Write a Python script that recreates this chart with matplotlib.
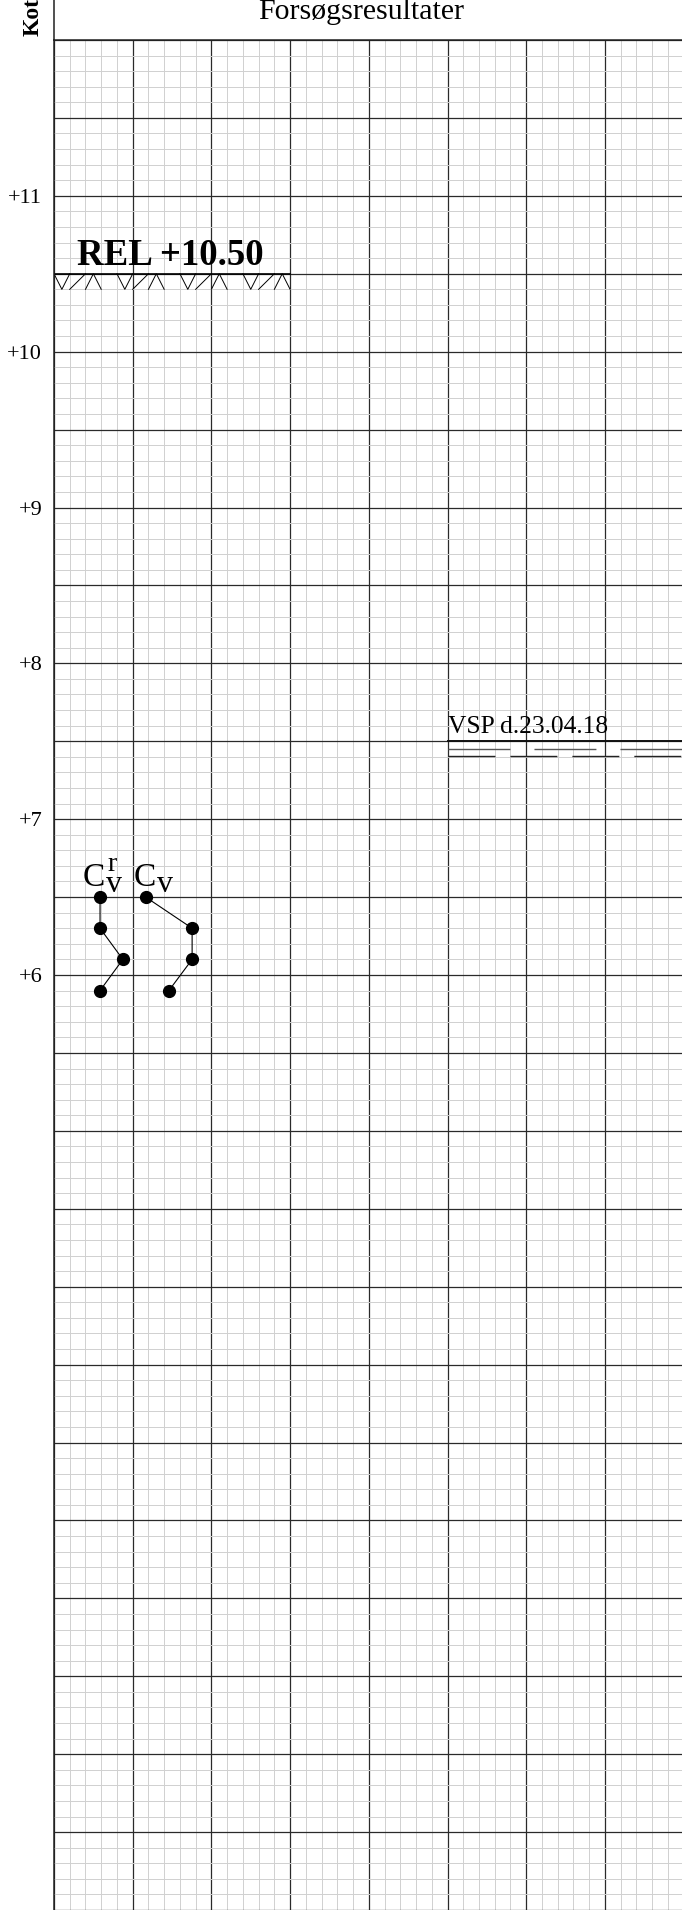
import numpy as np
import matplotlib
matplotlib.use('Agg')
import matplotlib.pyplot as plt
from matplotlib.lines import Line2D

plt.rcParams['font.family'] = ['Liberation Serif', 'DejaVu Serif']

# levels (m) and values read from the sheet
kote_ticks = [6, 7, 8, 9, 10, 11]
rel_level = 10.50
vsp_level = 7.5
vsp_label = 'VSP d.23.04.18'

depth = [6.5, 6.3, 6.1, 5.9]
cv_r = [0.585, 0.585, 0.875, 0.585]   # remoulded, in grid units
cv = [1.165, 1.755, 1.755, 1.46]      # intact, in grid units

W, H = 682, 1910
fig = plt.figure(figsize=(W / 100, H / 100), dpi=100)
left_px, top_px = 54, 40
ax = fig.add_axes([left_px / W, 0, 1 - left_px / W, 1 - top_px / H])

x_max = (W - left_px) / 78.7
ax.set_xlim(0, x_max)
ax.set_ylim(0, 12)

# grid paper
ax.set_xticks(np.arange(0, x_max, 1))
ax.set_xticks(np.arange(0, x_max, 0.2), minor=True)
ax.set_yticks(np.arange(0, 12.01, 0.5))
ax.set_yticks(np.arange(0, 12.01, 0.1), minor=True)
ax.set_yticklabels(['+%d' % v if v in kote_ticks else '' for v in np.arange(0, 12.01, 0.5)])
ax.set_xticklabels([])
ax.grid(which='minor', color='#d0d0d0', lw=0.7, zorder=0)
ax.grid(which='major', color='#2a2a2a', lw=0.9, zorder=1)
ax.set_axisbelow(True)
ax.tick_params(which='both', length=0, labelsize=16, pad=8.5)
for s in ['right', 'bottom']:
    ax.spines[s].set_visible(False)
for s in ['left', 'top']:
    ax.spines[s].set_color('#202020')
    ax.spines[s].set_linewidth(1.1)

# left border continues through header
fig.add_artist(Line2D([left_px / W, left_px / W], [1 - top_px / H, 1], color='#202020', lw=1.1))

fig.text(361 / W, 1 - 19 / H, 'Forsøgsresultater', ha='center', va='baseline', fontsize=21.5)
fig.text(39 / W, 1 - 36 / H, 'Kote', rotation=90, rotation_mode='anchor',
         ha='left', va='baseline', fontsize=17, fontweight='bold')

# REL terrain symbol
ax.text(0.29, rel_level + 0.057, 'REL +%.2f' % rel_level, fontsize=26.5, fontweight='bold',
        ha='left', va='baseline')
ax.plot([0, 3], [rel_level, rel_level], color='k', lw=1.2)
pattern = ['V', '/', 'A', '']
top, bot = rel_level, rel_level - 0.1
for i in range(15):
    x0 = i * 0.2
    x1 = x0 + 0.2
    xm = (x0 + x1) / 2
    p = pattern[i % 4]
    if p == 'V':
        ax.plot([x0, xm, x1], [top, bot, top], color='k', lw=0.7)
    elif p == '/':
        ax.plot([x0, x1], [bot, top], color='k', lw=0.7)
    elif p == 'A':
        ax.plot([x0, xm, x1], [bot, top, bot], color='k', lw=0.7)

# water level symbol
ax.text(5.0, vsp_level + 0.055, vsp_label, fontsize=18.4, ha='left', va='baseline')
ax.plot([5, x_max], [vsp_level, vsp_level], color='#111111', lw=1.4)
ax.plot([5, x_max], [vsp_level - 0.051] * 2, color='#555555', lw=1.0, dashes=(44.6, 17.3))
ax.plot([5, x_max], [vsp_level - 0.096] * 2, color='#222222', lw=1.0, dashes=(33.8, 10.8))

# vane test results
ax.plot(cv_r, depth, color='k', lw=0.8, marker='o', ms=8.5)
ax.plot(cv, depth, color='k', lw=0.8, marker='o', ms=8.5)

ax.text(0.368, 6.569, 'C', fontsize=24, ha='left', va='baseline')
ax.text(0.68, 6.665, 'r', fontsize=20, ha='left', va='baseline')
ax.text(0.661, 6.535, 'v', fontsize=23, ha='left', va='baseline')
ax.text(1.017, 6.569, 'C', fontsize=24, ha='left', va='baseline')
ax.text(1.309, 6.535, 'v', fontsize=23, ha='left', va='baseline')

fig.savefig('out.png', dpi=100)
